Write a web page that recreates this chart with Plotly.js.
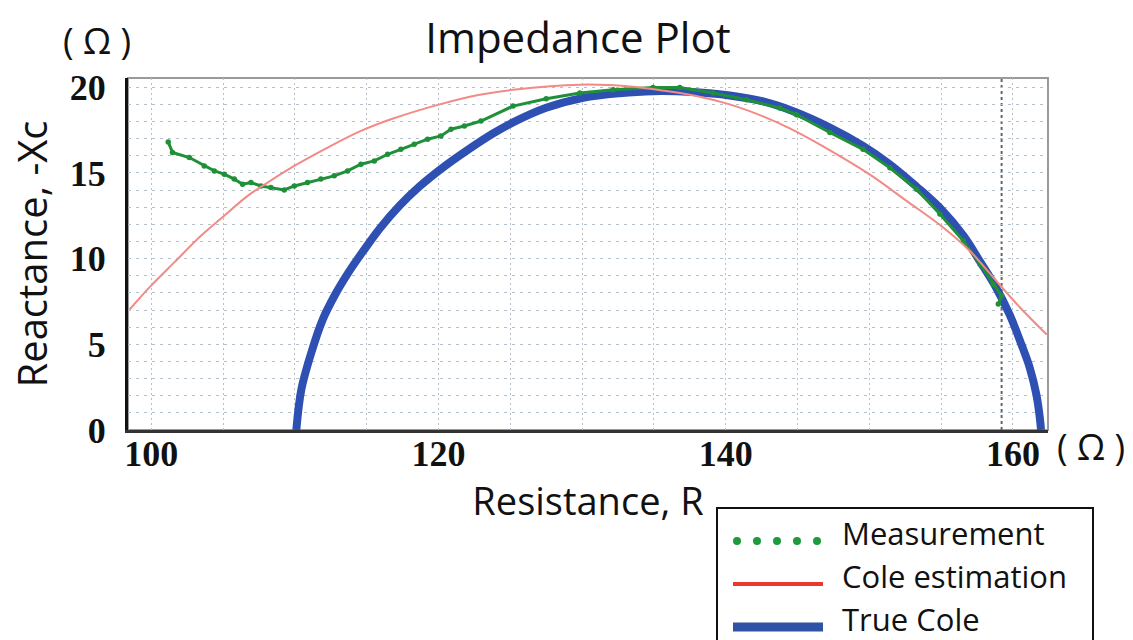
<!DOCTYPE html>
<html>
<head>
<meta charset="utf-8">
<script src="https://cdn.plot.ly/plotly-3.0.1.min.js"></script>
<style>html,body{margin:0;padding:0;background:#fff;}#chart{width:1133px;height:640px;}</style>
</head>
<body>
<div id="chart"></div>
<script>
// True Cole (blue band)
const trueColeR = [110.1, 110.45, 111.14, 111.95, 112.77, 113.7, 114.74, 115.9, 117.3, 118.69, 120.31, 121.94, 123.79, 125.19, 127.5, 130.07, 132.6, 134.94, 137.7, 140.28, 142.6, 144.7, 147.25, 149.56, 151.43, 153.29, 154.91, 156.54, 157.7, 158.84, 159.77, 160.59, 161.17, 161.63, 161.9, 161.95];
const trueColeXc = [0, 2.36, 4.5, 6.47, 7.85, 9.15, 10.42, 11.75, 13.1, 14.22, 15.32, 16.29, 17.3, 17.95, 18.8, 19.38, 19.65, 19.77, 19.72, 19.52, 19.17, 18.6, 17.65, 16.58, 15.5, 14.2, 12.96, 11.35, 9.84, 8.29, 6.73, 4.99, 3.63, 2.07, 0.5, 0];

// Measurement (green dots)
const measR = [101.18, 101.48, 102.65, 103.69, 104.39, 105.08, 105.78, 106.36, 106.94, 107.64, 108.33, 109.26, 109.96, 110.88, 111.81, 112.74, 113.67, 114.6, 115.53, 116.46, 117.38, 118.31, 119.24, 120.17, 120.87, 121.8, 122.96, 125.19, 127.5, 129.84, 132.16, 134.94, 136.8, 139.12, 141.45, 143.77, 144.93, 147.25, 149.56, 151.43, 153.29, 154.91, 156.54, 157.7, 158.63, 159.21, 158.98];
const measXc = [16.81, 16.19, 15.9, 15.41, 15.12, 14.93, 14.64, 14.34, 14.44, 14.24, 14.15, 14.01, 14.24, 14.44, 14.64, 14.83, 15.12, 15.51, 15.7, 16.09, 16.38, 16.68, 16.97, 17.16, 17.55, 17.74, 18.03, 18.9, 19.33, 19.66, 19.86, 19.99, 19.99, 19.66, 19.27, 18.79, 18.4, 17.36, 16.38, 15.3, 14.05, 12.6, 11.04, 9.68, 8.51, 7.83, 7.35];

// Cole estimation (red line)
const coleR = [98.49, 99.97, 101.6, 103.46, 105.08, 106.71, 108.1, 109.96, 112.28, 114.6, 116.69, 120.08, 122.87, 125.19, 129.84, 133.32, 135.87, 137.96, 140.28, 142.6, 144.46, 146.78, 150.04, 152.59, 155.14, 157.0, 158.63, 160.49, 162.35];
const coleXc = [7.03, 8.41, 9.78, 11.33, 12.5, 13.66, 14.44, 15.41, 16.48, 17.45, 18.13, 19.0, 19.56, 19.85, 20.15, 20.05, 19.78, 19.49, 19.0, 18.3, 17.6, 16.55, 14.9, 13.37, 11.82, 10.45, 8.9, 7.15, 5.57];

const xTickVals = [100, 120, 140, 160];
const yTickVals = [0, 5, 10, 15, 20];
const darkGridR = 159.21;
const legendNames = ['Measurement', 'Cole estimation', 'True Cole'];

const gridCol = '#b4c0cc';
const sans = 'Open Sans, Noto Sans, sans-serif';
const serif = 'Liberation Serif, Times New Roman, serif';

const traces = [
  {x: trueColeR, y: trueColeXc, mode: 'lines', line: {color: '#2d50b2', width: 8, shape: 'spline', smoothing: 1}, showlegend: false, name: legendNames[2]},
  {x: measR, y: measXc, mode: 'lines+markers', line: {color: '#1f9038', width: 3}, marker: {color: '#1f9038', size: 5.5}, showlegend: false, name: legendNames[0]},
  {x: coleR, y: coleXc, mode: 'lines', line: {color: '#f28a85', width: 2, shape: 'spline', smoothing: 1}, showlegend: false, name: legendNames[1]}
];

// paper-coordinate helpers for the hand-drawn legend (plot area 128..1048 x 78..430)
const L = 128, T = 78, W = 920, H = 352;
const px = v => (v - L) / W;
const py = v => (T + H - v) / H;

const shapes = [
  {type: 'rect', xref: 'paper', yref: 'paper', x0: 0, x1: 1, y0: 0, y1: 1, line: {color: '#9a9a9a', width: 2}, layer: 'below'},
  {type: 'line', xref: 'x', yref: 'paper', x0: darkGridR, x1: darkGridR, y0: 0, y1: 1, line: {color: '#666', width: 2, dash: 'dot'}, layer: 'below'},
  {type: 'rect', xref: 'paper', yref: 'paper', x0: px(717), x1: px(1093), y0: py(660), y1: py(508), line: {color: '#111', width: 2}, fillcolor: '#fff'},
  {type: 'line', xref: 'paper', yref: 'paper', x0: px(733), x1: px(823), y0: py(584), y1: py(584), line: {color: '#e8392c', width: 4}},
  {type: 'line', xref: 'paper', yref: 'paper', x0: px(733), x1: px(823), y0: py(627), y1: py(627), line: {color: '#2e52a6', width: 9}}
];
[737, 757, 777, 797, 817].forEach(cx => {
  shapes.push({type: 'circle', xref: 'paper', yref: 'paper', xsizemode: 'pixel', ysizemode: 'pixel',
    xanchor: px(cx), yanchor: py(541), x0: -4, x1: 4, y0: -4, y1: 4,
    fillcolor: '#1e9a3c', line: {width: 0}});
});

const annotations = [
  {text: '( Ω )', xref: 'paper', yref: 'paper', x: px(97), y: py(40), showarrow: false, font: {family: sans, size: 36, color: '#111'}, xanchor: 'center', yanchor: 'middle'},
  {text: '( Ω )', xref: 'paper', yref: 'paper', x: px(1091), y: py(446), showarrow: false, font: {family: sans, size: 36, color: '#111'}, xanchor: 'center', yanchor: 'middle'},
  {text: legendNames[0], xref: 'paper', yref: 'paper', x: px(840), y: py(533), showarrow: false, font: {family: sans, size: 31, color: '#111'}, xanchor: 'left', yanchor: 'middle'},
  {text: legendNames[1], xref: 'paper', yref: 'paper', x: px(840), y: py(576), showarrow: false, font: {family: sans, size: 31, color: '#111'}, xanchor: 'left', yanchor: 'middle'},
  {text: legendNames[2], xref: 'paper', yref: 'paper', x: px(840), y: py(619), showarrow: false, font: {family: sans, size: 31, color: '#111'}, xanchor: 'left', yanchor: 'middle'}
];

const layout = {
  width: 1133, height: 640,
  margin: {l: L, r: 1133 - L - W, t: T, b: 640 - T - H, pad: 0},
  paper_bgcolor: '#fff', plot_bgcolor: '#fff',
  title: {text: 'Impedance Plot', font: {family: sans, size: 42, color: '#111'}, x: 578 / 1133, xref: 'container', xanchor: 'center', y: 1 - 38 / 640, yref: 'container', yanchor: 'middle'},
  xaxis: {
    range: [98.38, 162.44], tickvals: xTickVals, ticktext: xTickVals.map(String),
    showgrid: true, gridcolor: gridCol, griddash: '2px,3px', gridwidth: 1,
    minor: {dtick: 5, tick0: 100, showgrid: true, gridcolor: gridCol, griddash: '2px,3px', gridwidth: 1, ticks: ''},
    showline: true, linecolor: '#333', linewidth: 3, zeroline: false, ticks: '',
    ticklabelstandoff: -10,
    tickfont: {family: serif, size: 36, color: '#111', weight: 'bold'},
    title: {text: 'Resistance, R', font: {family: sans, size: 38, color: '#111'}, standoff: 0},
    fixedrange: true
  },
  yaxis: {
    range: [0, 20.54], tickvals: yTickVals, ticktext: yTickVals.map(String),
    showgrid: true, gridcolor: gridCol, griddash: '3px,5px', gridwidth: 1,
    minor: {dtick: 1, tick0: 0, showgrid: true, gridcolor: gridCol, griddash: '3px,5px', gridwidth: 1, ticks: ''},
    showline: true, linecolor: '#111', linewidth: 3, zeroline: false, ticks: '',
    ticklabelstandoff: 12,
    tickfont: {family: serif, size: 36, color: '#111', weight: 'bold'},
    title: {text: 'Reactance, -Xc', font: {family: sans, size: 40, color: '#111'}, standoff: 10},
    fixedrange: true
  },
  shapes: shapes,
  annotations: annotations,
  showlegend: false
};

Plotly.newPlot('chart', traces, layout, {displayModeBar: false, staticPlot: true});
</script>
</body>
</html>
